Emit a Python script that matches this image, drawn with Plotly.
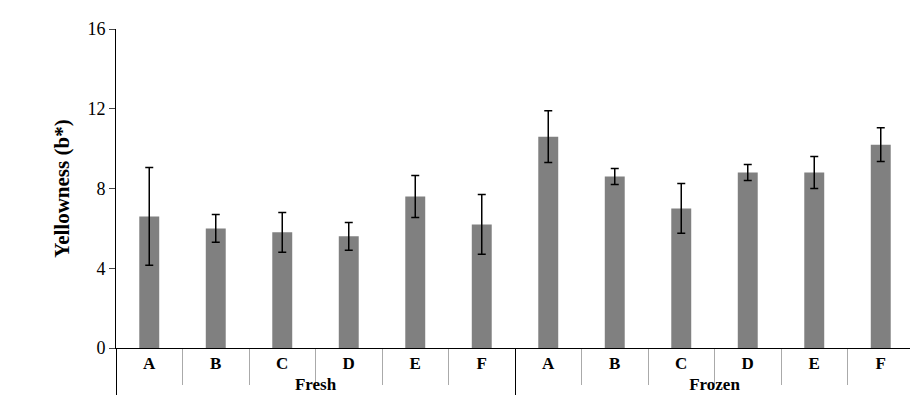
import plotly.graph_objects as go

groups = ["<b>Fresh</b>"] * 6 + ["<b>Frozen</b>"] * 6
labels = ["<b>A</b>", "<b>B</b>", "<b>C</b>", "<b>D</b>", "<b>E</b>", "<b>F</b>"] * 2
values = [6.6, 6.0, 5.8, 5.6, 7.6, 6.2, 10.6, 8.6, 7.0, 8.8, 8.8, 10.2]
errors = [2.45, 0.7, 1.0, 0.7, 1.05, 1.5, 1.3, 0.4, 1.25, 0.4, 0.8, 0.85]

fig = go.Figure(
    go.Bar(
        x=[groups, labels],
        y=values,
        marker=dict(color="#808080", line=dict(width=0)),
        error_y=dict(type="data", array=errors, color="black", thickness=1.5, width=4),
    )
)

font = dict(family="Liberation Serif", size=17, color="black")
fig.update_layout(
    width=918, height=403,
    margin=dict(l=108, r=12, t=21, b=63),
    plot_bgcolor="white", paper_bgcolor="white",
    bargap=0.7, showlegend=False,
    font=font,
)
fig.update_xaxes(
    type="multicategory", showline=True, linecolor="black", linewidth=1,
    ticks="outside", tickson="boundaries", ticklen=36, tickcolor="#aaaaaa",
    dividercolor="black", dividerwidth=1, showdividers=True,
    tickfont=dict(family="Liberation Serif", size=17, color="black"),
    automargin=False,
)
fig.update_yaxes(
    range=[0, 16], tickvals=[0, 4, 8, 12, 16], showgrid=False,
    showline=True, linecolor="black", linewidth=1, ticks="outside", ticklen=6,
    tickfont=dict(family="Liberation Serif", size=18, color="black"),
    title=dict(text="<b>Yellowness (b*)</b>", font=dict(family="Liberation Serif", size=21), standoff=12),
    zeroline=False, automargin=False,
)

fig.write_html("out.html")
